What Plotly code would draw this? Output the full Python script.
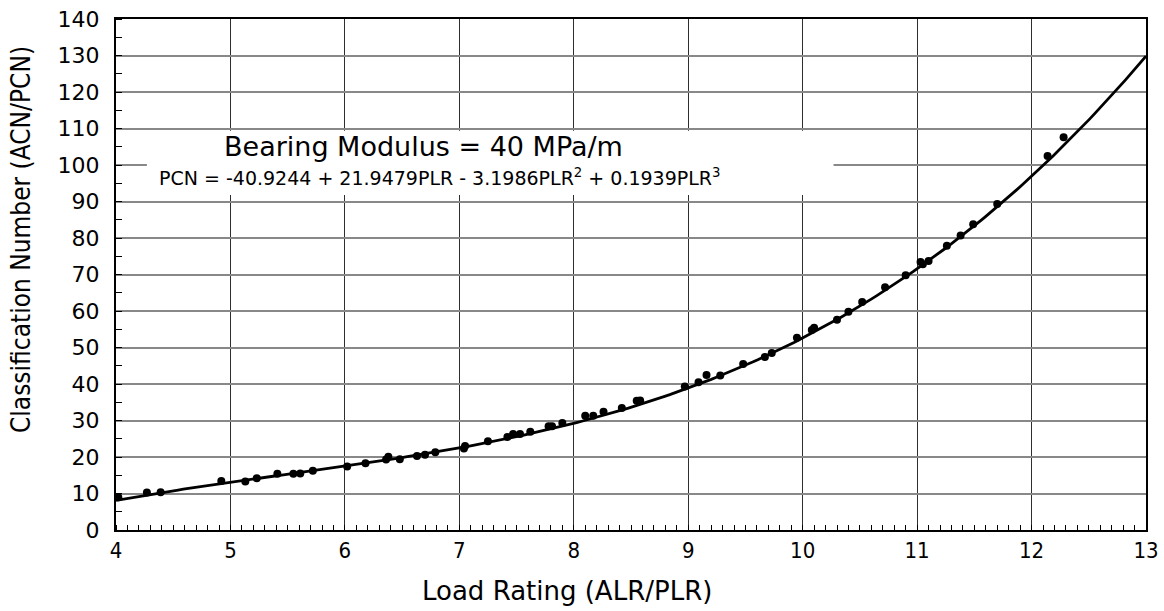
import numpy as np
import plotly.graph_objects as go

# Data points
plr = [4.02, 4.27, 4.39, 4.92, 5.13, 5.23, 5.41, 5.55, 5.61, 5.72, 6.02, 6.18, 6.36, 6.38,
       6.48, 6.63, 6.70, 6.79, 7.04, 7.05, 7.25, 7.42, 7.47, 7.53, 7.62, 7.78, 7.81, 7.90,
       8.10, 8.17, 8.26, 8.42, 8.55, 8.58, 8.97, 9.09, 9.16, 9.28, 9.48, 9.67, 9.73, 9.95,
       10.08, 10.10, 10.30, 10.40, 10.52, 10.72, 10.90, 11.03, 11.05, 11.10, 11.26, 11.38,
       11.49, 11.70, 12.14, 12.28]
pcn = [9.0, 10.25, 10.35, 13.4, 13.3, 14.2, 15.4, 15.4, 15.5, 16.2, 17.4, 18.3, 19.3, 20.1,
       19.4, 20.3, 20.6, 21.3, 22.3, 23.0, 24.3, 25.5, 26.3, 26.3, 26.9, 28.4, 28.4, 29.3,
       31.3, 31.3, 32.4, 33.4, 35.4, 35.5, 39.3, 40.5, 42.5, 42.3, 45.5, 47.4, 48.5, 52.7,
       54.8, 55.4, 57.6, 59.8, 62.5, 66.5, 69.8, 73.4, 72.8, 73.7, 77.9, 80.7,
       83.8, 89.3, 102.5, 107.6]

# Trendline coefficients as printed on the chart (c0 + c1*x + c2*x^2 + c3*x^3)
coef = [-40.9244, 21.9479, -3.1986, 0.1939]
x_ticks = [4, 5, 6, 7, 8, 9, 10, 11, 12, 13]
y_ticks = [0, 10, 20, 30, 40, 50, 60, 70, 80, 90, 100, 110, 120, 130, 140]

xc = np.linspace(4, 13, 200)
yc = np.polyval(coef[::-1], xc)

fig = go.Figure()
fig.add_trace(go.Scatter(x=xc, y=yc, mode="lines",
                         line=dict(color="black", width=2.8), hoverinfo="skip"))
fig.add_trace(go.Scatter(x=plr, y=pcn, mode="markers",
                         marker=dict(color="black", size=8, symbol="circle")))

narrow = "DejaVu Sans Condensed, Liberation Sans Narrow, sans-serif"

fig.update_layout(
    width=1164, height=611,
    margin=dict(l=116, r=18, t=19, b=81),
    paper_bgcolor="white", plot_bgcolor="white",
    showlegend=False,
    xaxis=dict(range=[4, 13], tickvals=x_ticks, ticktext=[str(v) for v in x_ticks],
               showgrid=True, gridcolor="#2e2e2e", gridwidth=1,
               showline=True, linecolor="black", linewidth=2, mirror=True,
               ticks="", zeroline=False, automargin=False, ticklabeloverflow="allow",
               tickfont=dict(family=narrow, size=22, color="black"),
               minor=dict(dtick=0.1, ticks="inside", ticklen=5, tickcolor="black",
                          tickwidth=1, showgrid=False)),
    yaxis=dict(range=[0, 140], tickvals=y_ticks, ticktext=[str(v) for v in y_ticks],
               showgrid=True, gridcolor="#888888", gridwidth=1.8,
               showline=True, linecolor="black", linewidth=2, mirror=True,
               ticks="outside", ticklen=10, tickcolor="rgba(0,0,0,0)",
               zeroline=False, automargin=False, ticklabeloverflow="allow",
               tickfont=dict(family="DejaVu Sans, sans-serif", size=22, color="black"),
               minor=dict(dtick=5, ticks="inside", ticklen=6, tickcolor="black",
                          tickwidth=1, showgrid=False)),
)

# white box behind the labels
fig.add_shape(type="rect", xref="x", yref="y", x0=4.27, x1=10.27, y0=91.8, y1=109.4,
              fillcolor="white", line=dict(width=0), layer="between")

fig.add_annotation(x=6.69, y=105.2, xref="x", yref="y", showarrow=False,
                   text="Bearing Modulus = 40 MPa/m",
                   font=dict(family="DejaVu Sans, sans-serif", size=27, color="black"))
fig.add_annotation(x=6.83, y=96.7, xref="x", yref="y", showarrow=False,
                   text="PCN = -40.9244 + 21.9479PLR - 3.1986PLR<sup>2</sup> + 0.1939PLR<sup>3</sup>",
                   font=dict(family="DejaVu Sans, sans-serif", size=19, color="black"))

# axis titles
fig.add_annotation(x=(567 - 116) / 1030, y=(530 - 591) / 511, xref="paper", yref="paper",
                   showarrow=False, yanchor="middle", text="Load Rating (ALR/PLR)",
                   font=dict(family="DejaVu Sans, sans-serif", size=26, color="black"))
fig.add_annotation(x=(21 - 116) / 1030, y=(530 - 240) / 511, xref="paper", yref="paper",
                   showarrow=False, textangle=-90, xanchor="center", yanchor="middle",
                   text="Classification Number (ACN/PCN)",
                   font=dict(family=narrow, size=26, color="black"))

# remove the page's default 8px body margin so the figure sits at the window's corner
fig.write_html("out.html", config={"displayModeBar": False},
               post_script="document.body.style.margin='0px';")
